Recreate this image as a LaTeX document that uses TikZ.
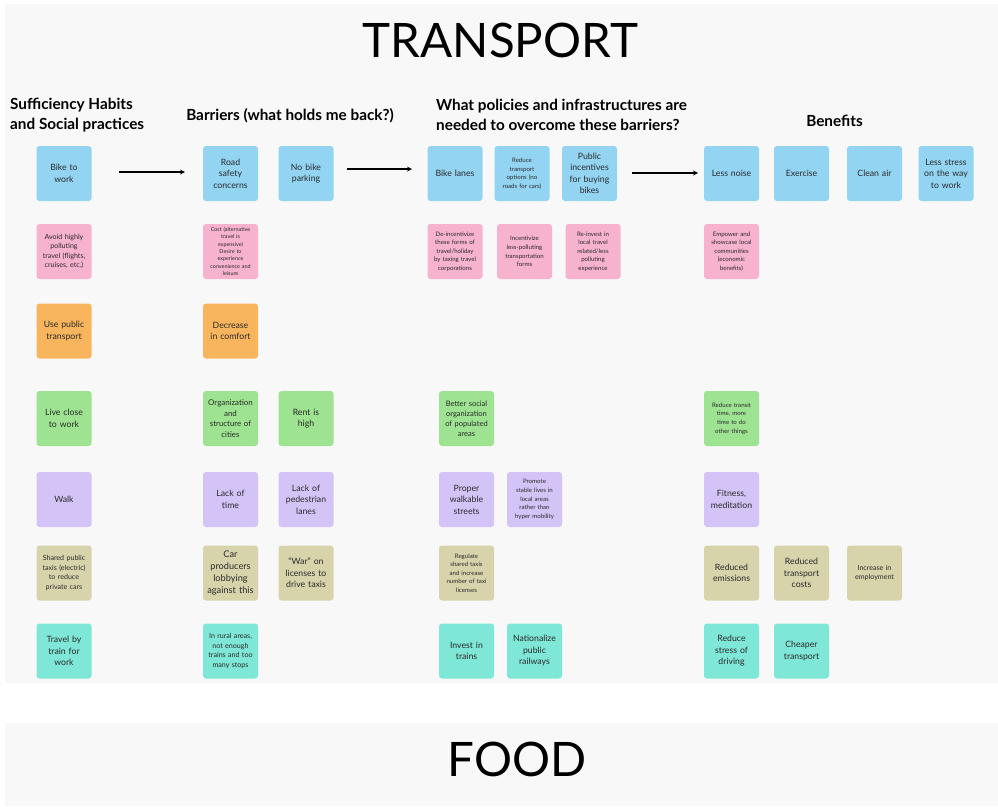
\documentclass[tikz,border=0pt]{standalone}
\usepackage{fontspec}
\setmainfont{Lato}
\usepackage{tikz}

\definecolor{panel}{HTML}{F8F8F8}
\definecolor{ink}{HTML}{2A2A2A}
\definecolor{skyblue}{HTML}{93D4F3}
\definecolor{rosepink}{HTML}{F7B2CE}
\definecolor{sandorange}{HTML}{F8B55E}
\definecolor{leafgreen}{HTML}{9DE391}
\definecolor{lilac}{HTML}{D4C3F6}
\definecolor{khaki}{HTML}{D7D4AC}
\definecolor{aqua}{HTML}{7EE7D7}

\begin{document}
\begin{tikzpicture}[x=1pt, y=-1pt,
        note/.style={rounded corners=3pt, minimum width=55pt, minimum height=55pt,
            inner sep=0pt, text width=51pt, align=center, text=ink},
        big/.style={font=\fontsize{8.7}{11.5}\selectfont},
        mid/.style={font=\fontsize{7.1}{9.5}\selectfont},
        small/.style={font=\fontsize{6.1}{8.6}\selectfont},
        tiny/.style={font=\fontsize{5.4}{7.3}\selectfont},
        head/.style={font=\fontsize{15.3}{19.5}\selectfont\bfseries, text=black, inner sep=0pt},
        title/.style={font=\fontsize{47.5}{50}\selectfont, text=black, inner sep=0pt}]
        \useasboundingbox (0, 0) rectangle (998, 806);
        \fill[panel] (5, 4) rectangle (998, 683);
        \fill[panel] (5, 723) rectangle (998, 806);

        \node[title] (transport) at (500.5, 40) {TRANSPORT};
        \node[title] (food) at (517, 759.5) {FOOD};

        \node[head, align=left, anchor=west] (habits) at (10, 115) {Sufficiency Habits\\and Social practices};
        \node[head] (barriers) at (290, 116) {Barriers (what holds me back?)};
        \node[head, align=left, anchor=west] (policies) at (436, 115) {What policies and infrastructures are\\needed to overcome these barriers?};
        \node[head] (benefits) at (834.5, 121) {Benefits};

        % habits
        \node[note, fill=skyblue, big] (hab1) at (64, 173.5) {Bike to\\work};
        \node[note, fill=rosepink, mid] (hab2) at (64, 251.5) {Avoid highly\\polluting\\travel (flights,\\cruises, etc.)};
        \node[note, fill=sandorange, big] (hab3) at (64, 331) {Use public\\transport};
        \node[note, fill=leafgreen, big] (hab4) at (64, 418.5) {Live close\\to work};
        \node[note, fill=lilac, big] (hab5) at (64, 499.5) {Walk};
        \node[note, fill=khaki, mid] (hab6) at (64, 573) {Shared public\\taxis (electric)\\to reduce\\private cars};
        \node[note, fill=aqua, big] (hab7) at (64, 651) {Travel by\\train for\\work};

        % barriers
        \node[note, fill=skyblue, big] (bar1) at (230.5, 173.5) {Road\\safety\\concerns};
        \node[note, fill=skyblue, big] (bar2) at (306, 173.5) {No bike\\parking};
        \node[note, fill=rosepink, tiny] (bar3) at (230.5, 251.5) {Cost (alternative\\travel is\\expensive)\\Desire to\\experience\\convenience and\\leisure};
        \node[note, fill=sandorange, big] (bar4) at (230.5, 331) {Decrease\\in comfort};
        \node[note, fill=leafgreen, font=\fontsize{7.9}{10.5}\selectfont] (bar5) at (230.5, 418.5) {Organization\\and\\structure of\\cities};
        \node[note, fill=leafgreen, big] (bar6) at (306, 418.5) {Rent is\\high};
        \node[note, fill=lilac, big] (bar7) at (230.5, 499.5) {Lack of\\time};
        \node[note, fill=lilac, big] (bar8) at (306, 499.5) {Lack of\\pedestrian\\lanes};
        \node[note, fill=khaki, font=\fontsize{9.2}{11.7}\selectfont] (bar9) at (230.5, 573) {Car\\producers\\lobbying\\against this};
        \node[note, fill=khaki, big] (bar10) at (306, 573) {``War'' on\\licenses to\\drive taxis};
        \node[note, fill=aqua, mid] (bar11) at (230.5, 651) {In rural areas,\\not enough\\trains and too\\many stops};

        % policies
        \node[note, fill=skyblue, big] (pol1) at (455, 173.5) {Bike lanes};
        \node[note, fill=skyblue, small] (pol2) at (522, 173.5) {Reduce\\transport\\options (no\\roads for cars)};
        \node[note, fill=skyblue, big] (pol3) at (589.5, 173.5) {Public\\incentives\\for buying\\bikes};
        \node[note, fill=rosepink, small] (pol4) at (455, 251.5) {De-incentivize\\these forms of\\travel/holiday\\by taxing travel\\corporations};
        \node[note, fill=rosepink, small] (pol5) at (524.5, 251.5) {Incentivize\\less-polluting\\transportation\\forms};
        \node[note, fill=rosepink, small] (pol6) at (593, 251.5) {Re-invest in\\local travel\\related/less\\polluting\\experience};
        \node[note, fill=leafgreen, font=\fontsize{7.5}{10}\selectfont] (pol7) at (466.5, 418.5) {Better social\\organization\\of populated\\areas};
        \node[note, fill=lilac, big] (pol8) at (466.5, 499.5) {Proper\\walkable\\streets};
        \node[note, fill=lilac, small] (pol9) at (534.5, 499.5) {Promote\\stable lives in\\local areas\\rather than\\hyper mobility};
        \node[note, fill=khaki, small] (pol10) at (466.5, 573) {Regulate\\shared taxis\\and increase\\number of taxi\\licenses};
        \node[note, fill=aqua, big] (pol11) at (466.5, 651) {Invest in\\trains};
        \node[note, fill=aqua, big] (pol12) at (534.5, 651) {Nationalize\\public\\railways};

        % benefits
        \node[note, fill=skyblue, big] (ben1) at (731.5, 173.5) {Less noise};
        \node[note, fill=skyblue, big] (ben2) at (801.5, 173.5) {Exercise};
        \node[note, fill=skyblue, big] (ben3) at (874.5, 173.5) {Clean air};
        \node[note, fill=skyblue, big] (ben4) at (946, 173.5) {Less stress\\on the way\\to work};
        \node[note, fill=rosepink, small] (ben5) at (731.5, 251.5) {Empower and\\showcase local\\communities\\(economic\\benefits)};
        \node[note, fill=leafgreen, small] (ben6) at (731.5, 418.5) {Reduce transit\\time, more\\time to do\\other things};
        \node[note, fill=lilac, big] (ben7) at (731.5, 499.5) {Fitness,\\meditation};
        \node[note, fill=khaki, big] (ben8) at (731.5, 573) {Reduced\\emissions};
        \node[note, fill=khaki, big] (ben9) at (801.5, 573) {Reduced\\transport\\costs};
        \node[note, fill=khaki, mid] (ben10) at (874.5, 573) {Increase in\\employment};
        \node[note, fill=aqua, big] (ben11) at (731.5, 651) {Reduce\\stress of\\driving};
        \node[note, fill=aqua, big] (ben12) at (801.5, 651) {Cheaper\\transport};

        % arrows between the groups
        \coordinate (a1) at (119, 172);
        \coordinate (b1) at (185, 172);
        \coordinate (a2) at (347, 169);
        \coordinate (b2) at (412, 169);
        \coordinate (a3) at (632, 173);
        \coordinate (b3) at (698, 173);
        \draw[-stealth, line width=1.2pt] (a1) -- (b1);
        \draw[-stealth, line width=1.2pt] (a2) -- (b2);
        \draw[-stealth, line width=1.2pt] (a3) -- (b3);
    \end{tikzpicture}
\end{document}
